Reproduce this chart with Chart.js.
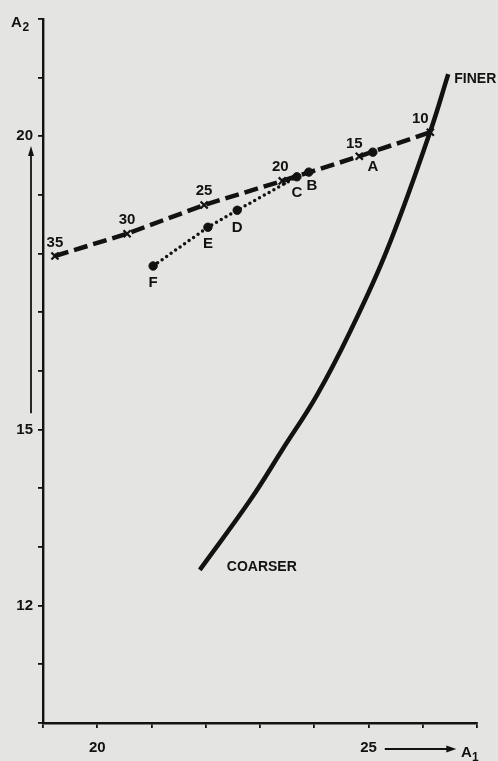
<!DOCTYPE html>
<html>
<head>
<meta charset="utf-8">
<script src="https://cdn.jsdelivr.net/npm/chart.js@4.4.1/dist/chart.umd.min.js"></script>
<style>
  html, body { margin: 0; padding: 0; background: #e4e4e2; }
  #wrap { width: 498px; height: 761px; position: relative; }
</style>
</head>
<body>
<div id="wrap"><canvas id="chart" width="498" height="761"></canvas></div>
<script>
// fraction numbers, marked with x on the dashed line
const fracLabels = ['35', '30', '25', '20', '15', '10'];
const fracA1 = [19.22, 20.55, 21.97, 23.41, 24.83, 26.14];
const fracA2 = [17.96, 18.34, 18.83, 19.24, 19.66, 20.07];

// lettered points
const letterLabels = ['A', 'B', 'C', 'D', 'E', 'F'];
const letterA1 = [25.08, 23.90, 23.68, 22.58, 22.04, 21.03];
const letterA2 = [19.73, 19.39, 19.31, 18.74, 18.45, 17.79];

// dotted path through the lettered points
const dottedPath = ['F', 'E', 'D', 'C'];

// solid curve, coarser -> finer
const curveA1 = [21.89, 22.82, 23.42, 24.05, 24.66, 25.34, 26.13, 26.47];
const curveA2 = [12.61, 13.80, 14.67, 15.59, 16.67, 18.06, 20.06, 21.06];

const xTickLabels = [20, 25];
const yTickLabels = [20, 15, 12];

const ink = '#121212';
const font = 'Liberation Sans';

function pts(xs, ys) {
    return xs.map((v, i) => ({x: v, y: ys[i]}));
}

const dottedData = dottedPath.map(l => {
    const i = letterLabels.indexOf(l);
    return {x: letterA1[i], y: letterA2[i]};
});

const annotate = {
    id: 'annotate',
    afterDatasetsDraw(chart) {
        const {ctx, chartArea} = chart;
        const x = chart.scales.x, y = chart.scales.y;
        ctx.save();
        ctx.fillStyle = ink;
        ctx.strokeStyle = ink;
        ctx.textAlign = 'center';
        ctx.textBaseline = 'middle';
        ctx.font = 'bold 15px "' + font + '"';

        const fracOff = [[0, -13], [0, -14], [0, -14], [-2, -14], [-5, -12], [-10, -13]];
        fracLabels.forEach((t, i) => {
            ctx.fillText(t, x.getPixelForValue(fracA1[i]) + fracOff[i][0],
                y.getPixelForValue(fracA2[i]) + fracOff[i][1]);
        });

        const letterOff = [[0, 15], [3, 14], [0, 16], [0, 18], [0, 17], [0, 17]];
        letterLabels.forEach((t, i) => {
            ctx.fillText(t, x.getPixelForValue(letterA1[i]) + letterOff[i][0],
                y.getPixelForValue(letterA2[i]) + letterOff[i][1]);
        });

        // curve end labels
        ctx.font = 'bold 14px "' + font + '"';
        ctx.textAlign = 'left';
        const n = curveA1.length - 1;
        ctx.fillText('FINER', x.getPixelForValue(curveA1[n]) + 6, y.getPixelForValue(curveA2[n]) + 5);
        ctx.fillText('COARSER', x.getPixelForValue(curveA1[0]) + 27, y.getPixelForValue(curveA2[0]) - 3);

        // axis titles
        ctx.font = 'bold 15px "' + font + '"';
        ctx.fillText('A', 11, 23);
        ctx.font = 'bold 12px "' + font + '"';
        ctx.fillText('2', 22.5, 28);
        ctx.font = 'bold 15px "' + font + '"';
        ctx.fillText('A', 461, chartArea.bottom + 30);
        ctx.font = 'bold 12px "' + font + '"';
        ctx.fillText('1', 472, chartArea.bottom + 35);

        // arrow along A2
        ctx.lineWidth = 1.8;
        const ax = chartArea.left - 12;
        const ay0 = y.getPixelForValue(15.28), ay1 = y.getPixelForValue(19.8);
        ctx.beginPath();
        ctx.moveTo(ax, ay0);
        ctx.lineTo(ax, ay1 + 6);
        ctx.stroke();
        ctx.beginPath();
        ctx.moveTo(ax, ay1 - 2);
        ctx.lineTo(ax - 3, ay1 + 8);
        ctx.lineTo(ax + 3, ay1 + 8);
        ctx.closePath();
        ctx.fill();

        // arrow along A1
        const by = chartArea.bottom + 26;
        const bx0 = x.getPixelForValue(25.3), bx1 = x.getPixelForValue(26.6);
        ctx.beginPath();
        ctx.moveTo(bx0, by);
        ctx.lineTo(bx1 - 6, by);
        ctx.stroke();
        ctx.beginPath();
        ctx.moveTo(bx1 + 1, by);
        ctx.lineTo(bx1 - 9, by - 3.5);
        ctx.lineTo(bx1 - 9, by + 3.5);
        ctx.closePath();
        ctx.fill();

        ctx.restore();
    }
};

new Chart(document.getElementById('chart'), {
    type: 'scatter',
    data: {
        datasets: [
            {
                data: pts(curveA1, curveA2),
                showLine: true,
                borderColor: ink,
                borderWidth: 4.5,
                tension: 0.4,
                pointRadius: 0
            },
            {
                data: pts(fracA1, fracA2),
                showLine: true,
                borderColor: ink,
                borderWidth: 4.5,
                borderDash: [14, 6],
                pointStyle: 'crossRot',
                pointRadius: 5,
                pointBorderWidth: 2.2,
                pointBorderColor: ink
            },
            {
                data: dottedData,
                showLine: true,
                borderColor: ink,
                borderWidth: 3.5,
                borderDash: [0, 5.5],
                borderCapStyle: 'round',
                pointRadius: 0
            },
            {
                data: pts(letterA1, letterA2),
                pointStyle: 'circle',
                pointRadius: 4.2,
                pointBackgroundColor: ink,
                pointBorderColor: ink
            }
        ]
    },
    options: {
        responsive: false,
        animation: false,
        layout: {padding: {top: 19, right: 21, left: 0, bottom: 0}},
        plugins: {legend: {display: false}, tooltip: {enabled: false}},
        scales: {
            x: {
                type: 'linear',
                min: 19,
                max: 27,
                afterFit(s) { s.height = 38; },
                border: {display: true, color: ink, width: 2.4},
                grid: {drawOnChartArea: false, tickLength: 5, color: ink, lineWidth: 1.8},
                ticks: {
                    stepSize: 1,
                    padding: 11,
                    color: ink,
                    font: {family: font, size: 15, weight: 'bold'},
                    callback: v => xTickLabels.includes(v) ? String(v) : ''
                }
            },
            y: {
                type: 'linear',
                min: 10,
                max: 22,
                afterFit(s) { s.width = 43; },
                border: {display: true, color: ink, width: 2.4},
                grid: {drawOnChartArea: false, tickLength: 5, color: ink, lineWidth: 1.8},
                ticks: {
                    stepSize: 1,
                    padding: 5,
                    color: ink,
                    font: {family: font, size: 15, weight: 'bold'},
                    callback: v => yTickLabels.includes(v) ? String(v) : ''
                }
            }
        }
    },
    plugins: [annotate]
});
</script>
</body>
</html>
